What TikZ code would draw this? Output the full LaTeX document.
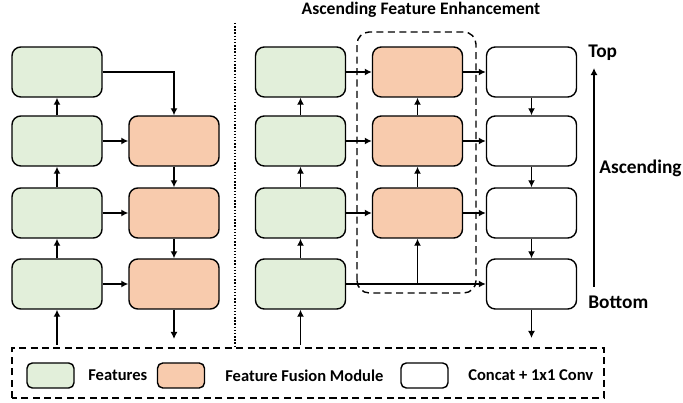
\documentclass[tikz,border=0pt]{standalone}
\usepackage{fontspec}
\setmainfont{Carlito}
\usepackage{tikz}
\usetikzlibrary{arrows.meta,positioning,calc}
\definecolor{featgreen}{HTML}{E2EFDA}
\definecolor{fusorange}{HTML}{F8CBAD}

\begin{document}
\begin{tikzpicture}[
    blk/.style={draw, thick, rounded corners=5pt, minimum width=1.8cm, minimum height=1.0cm},
    feat/.style={blk, fill=featgreen},
    fus/.style={blk, fill=fusorange},
    cat/.style={blk, fill=white},
    key/.style={draw, thick, rounded corners=3pt, minimum width=0.94cm, minimum height=0.5cm},
    arr/.style={-{Latex[length=4pt,width=4pt]}, thick},
    lbl/.style={font=\bfseries\fontsize{11}{13}\selectfont, anchor=west, inner sep=0pt},
    keytxt/.style={font=\bfseries\fontsize{9.4}{11}\selectfont, anchor=west, inner sep=0pt},
    grp/.style={draw, thick, dash pattern=on 4pt off 2.5pt, rounded corners=7pt}
]
\useasboundingbox (0,0) rectangle (13.66,8.06);

\node[font=\bfseries\normalsize] (title) at (8.42,7.86) {Ascending Feature Enhancement};

\node[feat] (g1) at (1.14,6.62) {};
\node[feat] (g2) at (1.14,5.24) {};
\node[feat] (g3) at (1.14,3.80) {};
\node[feat] (g4) at (1.14,2.38) {};
\node[fus] (o2) at (3.48,5.24) {};
\node[fus] (o3) at (3.48,3.80) {};
\node[fus] (o4) at (3.48,2.38) {};
\coordinate (in1) at (1.14,1.16);
\coordinate (out1) at (3.48,1.28);

\draw[arr] (in1) -- (g4);
\draw[arr] (g4) -- (g3);
\draw[arr] (g3) -- (g2);
\draw[arr] (g2) -- (g1);
\draw[arr] (g1.east) -| (o2.north);
\draw[arr] (g2) -- (o2);
\draw[arr] (g3) -- (o3);
\draw[arr] (g4) -- (o4);
\draw[arr] (o2) -- (o3);
\draw[arr] (o3) -- (o4);
\draw[arr] (o4) -- (out1);

\draw[thick, densely dotted] (4.70,7.60) -- (4.70,1.12);

\draw[grp] (7.14,2.20) rectangle (9.52,7.42);

\node[feat] (G1) at (6.01,6.62) {};
\node[feat] (G2) at (6.01,5.24) {};
\node[feat] (G3) at (6.01,3.80) {};
\node[feat] (G4) at (6.01,2.38) {};
\node[fus] (F1) at (8.35,6.62) {};
\node[fus] (F2) at (8.35,5.24) {};
\node[fus] (F3) at (8.35,3.80) {};
\node[cat] (W1) at (10.63,6.62) {};
\node[cat] (W2) at (10.63,5.24) {};
\node[cat] (W3) at (10.63,3.80) {};
\node[cat] (W4) at (10.63,2.38) {};
\coordinate (in2) at (6.01,1.16);
\coordinate (out2) at (10.63,1.30);

\draw[arr] (in2) -- (G4);
\draw[arr] (G4) -- (G3);
\draw[arr] (G3) -- (G2);
\draw[arr] (G2) -- (G1);
\draw[arr] (G1) -- (F1);
\draw[arr] (G2) -- (F2);
\draw[arr] (G3) -- (F3);
\draw[arr] (G4.east) -- (W4.west);
\draw[arr] (F3.south |- G4.east) -- (F3.south);
\draw[arr] (F3) -- (F2);
\draw[arr] (F2) -- (F1);
\draw[arr] (F1) -- (W1);
\draw[arr] (F2) -- (W2);
\draw[arr] (F3) -- (W3);
\draw[arr] (W1) -- (W2);
\draw[arr] (W2) -- (W3);
\draw[arr] (W3) -- (W4);
\draw[arr] (W4) -- (out2);

\coordinate (asc0) at (11.88,2.32);
\coordinate (asc1) at (11.88,6.70);
\draw[arr] (asc0) -- (asc1);
\node[lbl] (top) at (11.76,7.00) {Top};
\node[lbl] (bot) at (11.76,2.02) {Bottom};
\node[lbl] (asc) at (11.98,4.70) {Ascending};

\draw[grp, rounded corners=0pt] (0.24,0.10) rectangle (12.08,1.10);
\node[key, fill=featgreen] (k1) at (1.01,0.55) {};
\node[keytxt] (t1) at (1.76,0.55) {Features};
\node[key, fill=fusorange] (k2) at (3.62,0.55) {};
\node[keytxt] (t2) at (4.50,0.55) {Feature Fusion Module};
\node[key, fill=white] (k3) at (8.49,0.55) {};
\node[keytxt] (t3) at (9.36,0.55) {Concat + 1x1 Conv};
\end{tikzpicture}
\end{document}
